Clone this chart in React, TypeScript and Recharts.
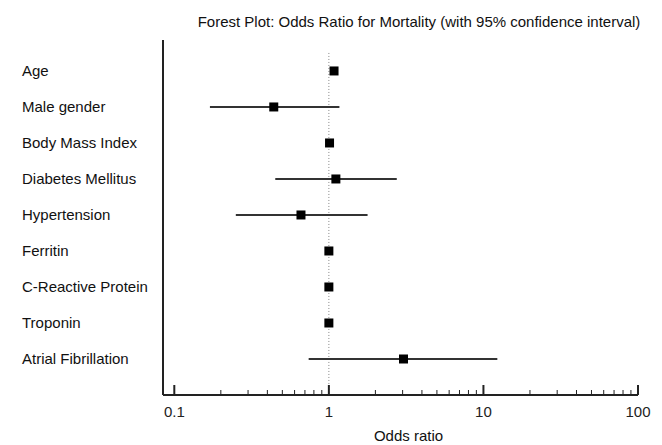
import { ScatterChart, Scatter, XAxis, YAxis, ErrorBar, ReferenceLine } from "recharts";

const labels = [
  "Age",
  "Male gender",
  "Body Mass Index",
  "Diabetes Mellitus",
  "Hypertension",
  "Ferritin",
  "C-Reactive Protein",
  "Troponin",
  "Atrial Fibrillation",
];
const oddsRatios = [1.08, 0.44, 1.01, 1.11, 0.66, 1.0, 1.0, 1.0, 3.04];
const lowerCI = [1.05, 0.17, 0.99, 0.45, 0.25, 0.99, 0.99, 0.99, 0.74];
const upperCI = [1.12, 1.17, 1.03, 2.75, 1.78, 1.01, 1.01, 1.01, 12.3];

const majorTicks = [0.1, 1, 10, 100];
const xTicks = [
  0.1, 0.2, 0.3, 0.4, 0.5, 0.6, 0.7, 0.8, 0.9,
  1, 2, 3, 4, 5, 6, 7, 8, 9,
  10, 20, 30, 40, 50, 60, 70, 80, 90, 100,
];
const rowTicks = [0, 1, 2, 3, 4, 5, 6, 7, 8];

const FONT = "'Liberation Sans', Arial, sans-serif";

const data = labels.map((name, i) => ({
  name,
  row: i,
  or: oddsRatios[i],
  ci: [oddsRatios[i] - lowerCI[i], upperCI[i] - oddsRatios[i]],
}));

function XTick({ x, y, payload }: any) {
  const v = payload.value;
  const major = majorTicks.includes(v);
  return (
    <g>
      <line x1={x} x2={x} y1={y} y2={y - (major ? 10 : 5)} stroke="#222" strokeWidth={major ? 2 : 1} />
      {major && (
        <text x={x} y={y + 22} textAnchor="middle" fontSize={15} fill="#222" fontFamily={FONT}>
          {v}
        </text>
      )}
    </g>
  );
}

function YTick({ y, payload }: any) {
  return (
    <text x={22} y={y + 5} textAnchor="start" fontSize={15} fill="#111" fontFamily={FONT}>
      {labels[payload.value]}
    </text>
  );
}

function Square({ cx, cy }: any) {
  return <rect x={cx - 4.5} y={cy - 4.5} width={9} height={9} fill="#000" />;
}

export default function App() {
  return (
    <div style={{ position: "absolute", left: 0, top: 0, width: 662, height: 445, background: "#fff" }}>
      <div
        style={{
          position: "absolute",
          left: 196,
          top: 13,
          width: 446,
          textAlign: "center",
          fontFamily: FONT,
          fontSize: 15,
          color: "#111",
          whiteSpace: "nowrap",
        }}
      >
        Forest Plot: Odds Ratio for Mortality (with 95% confidence interval)
      </div>
      <ScatterChart width={662} height={445} margin={{ top: 40, right: 24, bottom: 0, left: 0 }}>
        <XAxis
          type="number"
          dataKey="or"
          scale="log"
          domain={[0.0845, 100]}
          allowDataOverflow
          ticks={xTicks}
          interval={0}
          tick={<XTick />}
          tickLine={false}
          tickSize={0}
          tickMargin={0}
          height={50}
          axisLine={{ stroke: "#222", strokeWidth: 2 }}
          label={{ value: "Odds ratio", position: "insideBottom", offset: 4, dx: 8, fontSize: 15, fill: "#111", fontFamily: FONT }}
        />
        <YAxis
          type="number"
          dataKey="row"
          domain={[-0.86, 9]}
          reversed
          allowDataOverflow
          ticks={rowTicks}
          interval={0}
          tick={<YTick />}
          tickLine={false}
          width={163}
          axisLine={{ stroke: "#222", strokeWidth: 2 }}
        />
        <ReferenceLine
          segment={[
            { x: 1, y: -0.5 },
            { x: 1, y: 9 },
          ]}
          stroke="#888"
          strokeDasharray="1 2"
          ifOverflow="visible"
        />
        <Scatter data={data} shape={<Square />} isAnimationActive={false}>
          <ErrorBar dataKey="ci" direction="x" width={0} stroke="#333" strokeWidth={2} isAnimationActive={false} />
        </Scatter>
      </ScatterChart>
    </div>
  );
}
